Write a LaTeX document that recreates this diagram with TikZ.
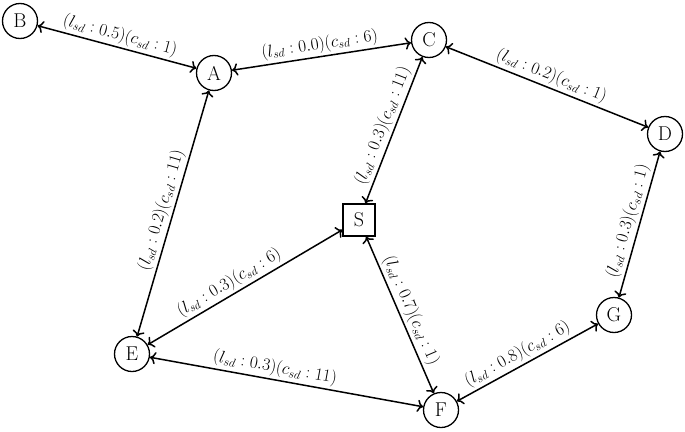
\documentclass[tikz,border=0pt]{standalone}
\usetikzlibrary{arrows.meta}
\begin{document}
\begin{tikzpicture}[x=1pt,y=-1pt,
  vert/.style={circle,draw,line width=1.3pt,minimum size=35pt,inner sep=0pt,font=\fontsize{20}{24}\selectfont},
  sq/.style={rectangle,draw,line width=1.3pt,minimum size=32pt,inner sep=0pt,font=\fontsize{20}{24}\selectfont},
  edge/.style={line width=1.5pt,{To[scale=1.2]}-{To[scale=1.2]}},
  lab/.style={sloped,above,inner sep=2.5pt,font=\fontsize{16.5}{20}\selectfont}]
\useasboundingbox (0,0) rectangle (685,431);
\node[vert] (B) at (20,21) {B};
\node[vert] (A) at (214,73) {A};
\node[vert] (C) at (429,40) {C};
\node[vert] (D) at (665,134) {D};
\node[sq] (S) at (359,220) {S};
\node[vert] (G) at (614,315) {G};
\node[vert] (E) at (132,354) {E};
\node[vert] (F) at (441,410) {F};
\draw[edge] (B) -- node[lab,pos=0.5] {$(l_{sd}:0.5)(c_{sd}:1)$} (A);
\draw[edge] (A) -- node[lab,pos=0.5] {$(l_{sd}:0.0)(c_{sd}:6)$} (C);
\draw[edge] (C) -- node[lab,pos=0.5] {$(l_{sd}:0.2)(c_{sd}:1)$} (D);
\draw[edge] (C) -- node[lab,pos=0.5] {$(l_{sd}:0.3)(c_{sd}:11)$} (S);
\draw[edge] (A) -- node[lab,pos=0.5] {$(l_{sd}:0.2)(c_{sd}:11)$} (E);
\draw[edge] (E) -- node[lab,pos=0.45] {$(l_{sd}:0.3)(c_{sd}:6)$} (S);
\draw[edge] (S) -- node[lab,pos=0.5] {$(l_{sd}:0.7)(c_{sd}:1)$} (F);
\draw[edge] (D) -- node[lab,pos=0.5] {$(l_{sd}:0.3)(c_{sd}:1)$} (G);
\draw[edge] (E) -- node[lab,pos=0.45] {$(l_{sd}:0.3)(c_{sd}:11)$} (F);
\draw[edge] (F) -- node[lab,pos=0.47] {$(l_{sd}:0.8)(c_{sd}:6)$} (G);
\end{tikzpicture}
\end{document}
